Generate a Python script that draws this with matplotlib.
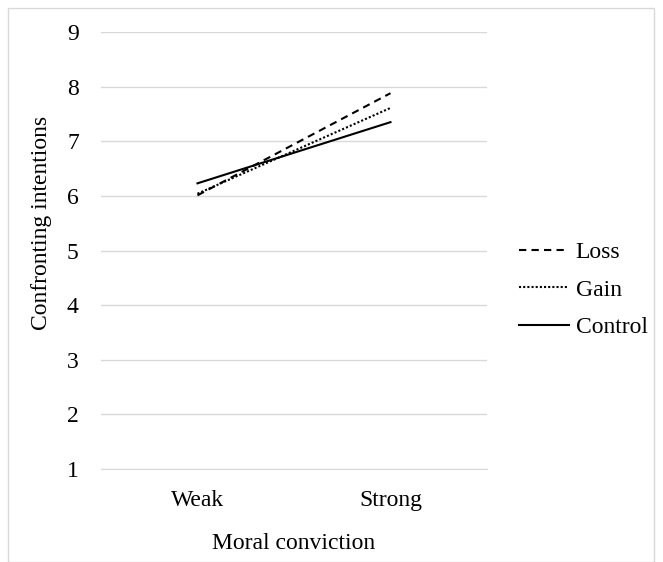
import matplotlib
matplotlib.use('Agg')
import matplotlib.pyplot as plt
from matplotlib.patches import Rectangle

categories = ['Weak', 'Strong']
loss = [6.01, 7.88]
gain = [6.04, 7.61]
control = [6.23, 7.35]

plt.rcParams['font.family'] = ['Liberation Serif', 'DejaVu Serif']
plt.rcParams['font.size'] = 17

fig = plt.figure(figsize=(6.63, 5.62), dpi=100)
ax = fig.add_axes([0.1523, 0.1655, 0.5822, 0.7775])

x = range(len(categories))
ax.plot(x, loss, color='black', linestyle=(0, (3.5, 2.5)), linewidth=1.5, label='Loss')
ax.plot(x, gain, color='black', linestyle=(0, (1, 1)), linewidth=1.5, label='Gain')
ax.plot(x, control, color='black', linestyle='-', linewidth=1.5, label='Control')

ax.set_xlim(-0.5, 1.5)
ax.set_ylim(1, 9)
ax.set_yticks(range(1, 10))
ax.set_xticks(list(x))
ax.set_xticklabels(categories)
ax.grid(axis='y', color='#d9d9d9', linewidth=1)
ax.set_axisbelow(True)
for s in ['top', 'right', 'left']:
    ax.spines[s].set_visible(False)
ax.spines['bottom'].set_color('#d9d9d9')
ax.tick_params(axis='x', length=0, pad=15)
ax.tick_params(axis='y', length=0, pad=16)

ax.set_xlabel('Moral conviction', labelpad=16)
fig.text(42 / 663, 1 - 223 / 562, 'Confronting intentions', rotation=90,
         ha='center', va='center')

ax.legend(loc='center left', bbox_to_anchor=(0.783, 0.484), bbox_transform=fig.transFigure,
          frameon=False, borderaxespad=0, borderpad=0,
          handlelength=2.1, handletextpad=0.3, labelspacing=0.68)

fig.patches.append(Rectangle((0.012, 0.0), 0.975, 0.986, transform=fig.transFigure,
                             fill=False, edgecolor='#d9d9d9', linewidth=1))

fig.savefig('out.png', dpi=100)
